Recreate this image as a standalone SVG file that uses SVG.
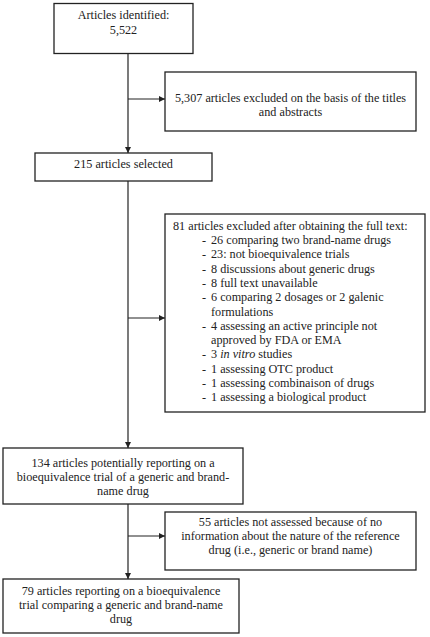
<svg xmlns="http://www.w3.org/2000/svg" width="430" height="637" viewBox="0 0 430 637">
<defs>
<style>
.box{fill:#fff;stroke:#222;stroke-width:1.3}
.ln{fill:none;stroke:#222;stroke-width:1.2}
text{font-family:"Liberation Serif","Times New Roman",serif;font-size:12.2px;fill:#222}
.c{text-anchor:middle}
</style>
<marker id="ah" viewBox="0 0 6 6" refX="6" refY="3" markerWidth="6" markerHeight="6" orient="auto" markerUnits="userSpaceOnUse">
<path d="M0,0 L6,3 L0,6 Z" fill="#222"/>
</marker>
</defs>
<rect width="430" height="637" fill="#fff"/>
<g id="connectors">
<line class="ln" x1="128" y1="53" x2="128" y2="153" marker-end="url(#ah)"/>
<line class="ln" x1="128" y1="99" x2="165" y2="99" marker-end="url(#ah)"/>
<line class="ln" x1="128" y1="181" x2="128" y2="448" marker-end="url(#ah)"/>
<line class="ln" x1="128" y1="318" x2="165" y2="318" marker-end="url(#ah)"/>
<line class="ln" x1="128" y1="504" x2="128" y2="579" marker-end="url(#ah)"/>
<line class="ln" x1="128" y1="536" x2="165" y2="536" marker-end="url(#ah)"/>
</g>
<g id="identified">
<rect class="box" x="54" y="3.5" width="139" height="50"/>
<text class="c" x="123.5" y="18.5">Articles identified:</text>
<text class="c" x="123.5" y="33.5">5,522</text>
</g>
<g id="excluded1">
<rect class="box" x="165" y="72" width="251" height="59"/>
<text class="c" x="290.5" y="102">5,307 articles excluded on the basis of the titles</text>
<text class="c" x="290.5" y="115.5">and abstracts</text>
</g>
<g id="selected">
<rect class="box" x="35" y="153" width="177" height="28"/>
<text class="c" x="123.5" y="167.5">215 articles selected</text>
</g>
<g id="excluded2">
<rect class="box" x="165" y="214" width="260" height="198"/>
<text x="173" y="230">81 articles excluded after obtaining the full text:</text>
<text x="202" y="244">-</text><text x="211" y="244">26 comparing two brand-name drugs</text>
<text x="202" y="258.3">-</text><text x="211" y="258.3">23: not bioequivalence trials</text>
<text x="202" y="272.6">-</text><text x="211" y="272.6">8 discussions about generic drugs</text>
<text x="202" y="286.9">-</text><text x="211" y="286.9">8 full text unavailable</text>
<text x="202" y="301.2">-</text><text x="211" y="301.2">6 comparing 2 dosages or 2 galenic</text>
<text x="211" y="315.5">formulations</text>
<text x="202" y="329.8">-</text><text x="211" y="329.8">4 assessing an active principle not</text>
<text x="211" y="344.1">approved by FDA or EMA</text>
<text x="202" y="358.4">-</text><text x="211" y="358.4">3 <tspan font-style="italic">in vitro</tspan> studies</text>
<text x="202" y="372.7">-</text><text x="211" y="372.7">1 assessing OTC product</text>
<text x="202" y="387">-</text><text x="211" y="387">1 assessing combinaison of drugs</text>
<text x="202" y="401.3">-</text><text x="211" y="401.3">1 assessing a biological product</text>
</g>
<g id="potential">
<rect class="box" x="3" y="448" width="240" height="56"/>
<text class="c" x="123" y="467">134 articles potentially reporting on a</text>
<text class="c" x="123" y="481">bioequivalence trial of a generic and brand-</text>
<text class="c" x="123" y="495">name drug</text>
</g>
<g id="notassessed">
<rect class="box" x="165" y="512" width="251" height="58"/>
<text class="c" x="290.5" y="526">55 articles not assessed because of no</text>
<text class="c" x="290.5" y="540">information about the nature of the reference</text>
<text class="c" x="290.5" y="554">drug (i.e., generic or brand name)</text>
</g>
<g id="final">
<rect class="box" x="3" y="579" width="236" height="54"/>
<text class="c" x="121" y="595">79 articles reporting on a bioequivalence</text>
<text class="c" x="121" y="609">trial comparing a generic and brand-name</text>
<text class="c" x="121" y="623">drug</text>
</g>
</svg>
